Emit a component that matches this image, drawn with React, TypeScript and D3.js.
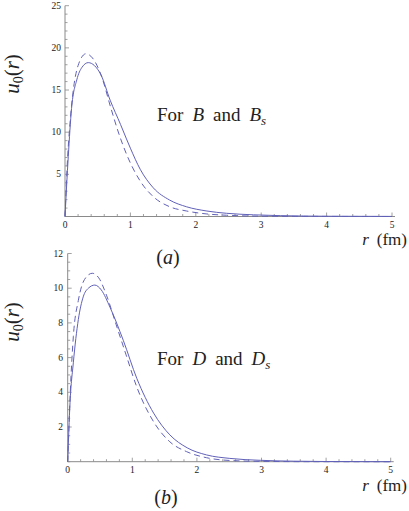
import React from "react";
import * as d3 from "d3";

// Panel (a): B (solid) and B_s (dashed)
const rB = [0, 0.05, 0.1, 0.18, 0.26, 0.356, 0.45, 0.55, 0.69, 0.85, 0.94, 1.0, 1.15, 1.35, 1.6, 1.86, 2.17, 2.47, 2.88, 3.3, 4, 5];
const uB = [0, 7.1, 12.8, 16.2, 17.7, 18.25, 17.9, 16.8, 13.8, 10.9, 9.2, 8.1, 5.6, 3.4, 1.95, 1.15, 0.65, 0.38, 0.2, 0.1, 0.03, 0.01];
const rBs = [0, 0.04, 0.076, 0.127, 0.2, 0.32, 0.42, 0.56, 0.7, 0.82, 0.94, 1.15, 1.35, 1.6, 1.86, 2.17, 2.47, 3, 4, 5];
const uBs = [0, 7, 11, 15.0, 17.9, 19.3, 18.8, 16.6, 12.9, 9.9, 7.4, 4.2, 2.35, 1.16, 0.65, 0.3, 0.15, 0.04, 0.01, 0];

// Panel (b): D (solid) and D_s (dashed)
const rD = [0, 0.036, 0.087, 0.165, 0.24, 0.32, 0.42, 0.52, 0.655, 0.86, 1.07, 1.33, 1.58, 1.85, 2.15, 2.51, 2.98, 3.5, 4, 5];
const uD = [0, 3.4, 5.7, 8.2, 9.5, 10.0, 10.18, 9.9, 8.9, 7.0, 4.8, 2.8, 1.55, 0.8, 0.39, 0.19, 0.08, 0.03, 0.01, 0];
const rDs = [0, 0.04, 0.087, 0.165, 0.26, 0.38, 0.48, 0.6, 0.75, 0.9, 1.07, 1.33, 1.58, 1.84, 2.15, 2.51, 3, 4, 5];
const uDs = [0, 4, 7.2, 9.3, 10.5, 10.86, 10.6, 9.6, 7.9, 6.2, 4.3, 2.3, 1.15, 0.58, 0.23, 0.07, 0.02, 0, 0];

const xTicks = [0, 1, 2, 3, 4, 5];
const yTicksA = [5, 10, 15, 20, 25];
const yTicksB = [2, 4, 6, 8, 10, 12];

const LINE = "#6161b9";
const AXIS = "#8a8a8a";
const SERIF = "Liberation Serif, Times New Roman, DejaVu Serif, serif";

type PanelProps = {
  x0: number; x1: number; y0: number; y1: number;
  yMax: number; yMajor: number[]; yMinorStep: number;
  solid: [number[], number[]]; dashed: [number[], number[]];
  sym: string; tag: string; textX: number; textY: number;
  rLabelY: number; tagY: number; tagX: number; yLabelY: number; yLabelRight: number;
};

function Panel(p: PanelProps) {
  const x = d3.scaleLinear().domain([0, 5]).range([p.x0, p.x1]);
  const y = d3.scaleLinear().domain([0, p.yMax]).range([p.y0, p.y1]);
  const line = d3.line<[number, number]>().x(d => x(d[0])).y(d => y(d[1])).curve(d3.curveMonotoneX);
  const sPts = p.solid[0].map((r, i) => [r, p.solid[1][i]] as [number, number]);
  const dPts = p.dashed[0].map((r, i) => [r, p.dashed[1][i]] as [number, number]);
  const xMinor = d3.range(0, 5.0001, 0.2);
  const yMinor = d3.range(0, p.yMax + 0.0001, p.yMinorStep);
  const ts = { fontFamily: SERIF };
  return (
    <g style={ts}>
      <line x1={x(0)} x2={x(5) + 3} y1={y(0)} y2={y(0)} stroke={AXIS} strokeWidth={1} />
      <line x1={x(0)} x2={x(0)} y1={y(0)} y2={y(p.yMax)} stroke={AXIS} strokeWidth={1} />
      {xMinor.map((t, i) => (
        <line key={"xm" + i} x1={x(t)} x2={x(t)} y1={y(0)} y2={y(0) - (Math.abs(t - Math.round(t)) < 1e-6 ? 4 : 2.5)} stroke={AXIS} strokeWidth={0.8} />
      ))}
      {yMinor.map((t, i) => (
        <line key={"ym" + i} x1={x(0)} x2={x(0) + (p.yMajor.some(m => Math.abs(m - t) < 1e-6) ? 4 : 2.5)} y1={y(t)} y2={y(t)} stroke={AXIS} strokeWidth={0.8} />
      ))}
      {xTicks.map(t => (
        <text key={"xt" + t} x={x(t)} y={y(0) + 11} fontSize={9.5} style={ts} textAnchor="middle" fill="#222">{t}</text>
      ))}
      {p.yMajor.map(t => (
        <text key={"yt" + t} x={p.yLabelRight} y={y(t) + 3} fontSize={9.5} style={ts} textAnchor="end" fill="#222">{t}</text>
      ))}
      <path d={line(sPts) || ""} fill="none" stroke={LINE} strokeWidth={1} />
      <path d={line(dPts) || ""} fill="none" stroke={LINE} strokeWidth={1} strokeDasharray="6,4" />
      <text x={p.textX} y={p.textY} fontSize={19} style={ts} fill="#222">
        For<tspan dx={9} fontStyle="italic">{p.sym}</tspan><tspan dx={9}>and</tspan><tspan dx={9} fontStyle="italic">{p.sym}</tspan>
        <tspan fontStyle="italic" fontSize={13} dy={4}>s</tspan>
      </text>
      <text x={407} y={p.rLabelY} fontSize={17} style={ts} fill="#222" textAnchor="end">
        <tspan fontStyle="italic">r</tspan><tspan dx={8}>(fm)</tspan>
      </text>
      <text x={p.tagX} y={p.tagY} fontSize={20} style={ts} fill="#222" textAnchor="middle">
        (<tspan fontStyle="italic">{p.tag}</tspan>)
      </text>
      <text transform={`translate(19,${p.yLabelY}) rotate(-90)`} fontSize={21} style={ts} fill="#222" textAnchor="middle">
        <tspan fontStyle="italic">u</tspan>
        <tspan fontSize={14} dy={4}>0</tspan>
        <tspan dy={-4}>(</tspan>
        <tspan fontStyle="italic">r</tspan>
        <tspan>)</tspan>
      </text>
    </g>
  );
}

export default function App() {
  return (
    <svg width={409} height={511} style={{ position: "absolute", left: 0, top: 0, background: "#fff" }}>
      <rect width={409} height={511} fill="#fff" />
      <Panel x0={65} x1={392} y0={216.5} y1={5.7} yMax={25} yMajor={yTicksA} yMinorStep={1}
        solid={[rB, uB]} dashed={[rBs, uBs]} sym="B" tag="a" textX={157} textY={121}
        rLabelY={245} tagY={264} tagX={168} yLabelY={74} yLabelRight={61} />
      <Panel x0={67.7} x1={390.7} y0={461.7} y1={253.5} yMax={12} yMajor={yTicksB} yMinorStep={0.5}
        solid={[rD, uD]} dashed={[rDs, uDs]} sym="D" tag="b" textX={157} textY={365}
        rLabelY={491} tagY={504} tagX={166} yLabelY={322} yLabelRight={63} />
    </svg>
  );
}
